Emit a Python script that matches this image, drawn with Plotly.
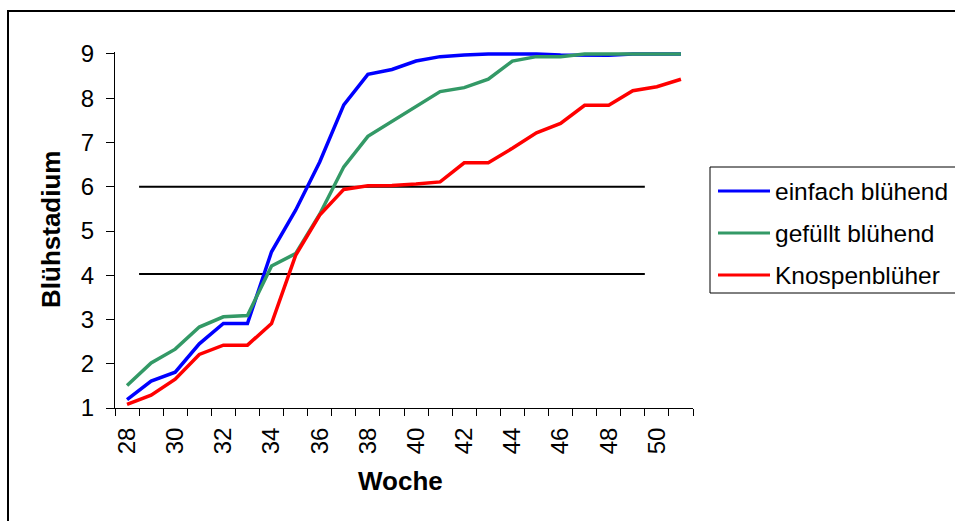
import plotly.graph_objects as go

# ---- data ----
weeks = list(range(28, 52))
einfach = [1.19, 1.61, 1.81, 2.45, 2.91, 2.91, 4.53, 5.47, 6.56, 7.85, 8.54, 8.65,
           8.84, 8.94, 8.98, 9.0, 9.0, 9.0, 8.98, 8.97, 8.97, 9.0, 9.0, 9.0]
gefuellt = [1.51, 2.02, 2.33, 2.83, 3.06, 3.09, 4.21, 4.49, 5.38, 6.45, 7.14, 7.47,
            7.82, 8.15, 8.24, 8.43, 8.84, 8.94, 8.94, 9.0, 9.0, 9.0, 9.0, 9.0]
knospen = [1.08, 1.29, 1.65, 2.21, 2.42, 2.42, 2.91, 4.45, 5.36, 5.94, 6.02, 6.03,
           6.06, 6.11, 6.54, 6.54, 6.87, 7.22, 7.43, 7.84, 7.84, 8.17, 8.26, 8.43]
series_names = ["einfach blühend", "gefüllt blühend", "Knospenblüher"]
series_colors = ["#0000FF", "#339966", "#FF0000"]
thresholds = [6.0, 4.03]
threshold_weeks = [28.5, 49.5]
y_ticks = list(range(1, 10))
x_tick_labels = list(range(28, 51, 2))

FONT = "Arial, 'Liberation Sans', sans-serif"

W, H = 955, 521
L, R, T, B = 115, 262, 52, 113
PW, PH = W - L - R, H - T - B


def px(p):
    return (p - L) / PW


def py(p):
    return (H - B - p) / PH


fig = go.Figure()

for th in thresholds:
    fig.add_trace(go.Scatter(x=threshold_weeks, y=[th, th], mode="lines",
                             line=dict(color="black", width=2), showlegend=False,
                             hoverinfo="skip"))

for name, vals, col in zip(series_names, [einfach, gefuellt, knospen], series_colors):
    fig.add_trace(go.Scatter(x=weeks, y=vals, mode="lines", name=name,
                             line=dict(color=col, width=3.5), showlegend=False))

shapes = []
annotations = []

# outer chart border (left/top visible)
shapes.append(dict(type="rect", xref="paper", yref="paper",
                   x0=px(8), x1=px(990), y0=py(560), y1=py(11),
                   line=dict(color="black", width=2), fillcolor="rgba(0,0,0,0)",
                   layer="above"))

# legend box
shapes.append(dict(type="rect", xref="paper", yref="paper",
                   x0=px(710), x1=px(990), y0=py(293), y1=py(167),
                   line=dict(color="black", width=1), fillcolor="white"))
leg_y = [191, 233, 275]
for name, col, yy in zip(series_names, series_colors, leg_y):
    shapes.append(dict(type="line", xref="paper", yref="paper",
                       x0=px(718), x1=px(770), y0=py(yy), y1=py(yy),
                       line=dict(color=col, width=3)))
    annotations.append(dict(text=name, xref="paper", yref="paper",
                            x=px(773), y=py(yy), xanchor="left", yanchor="middle",
                            showarrow=False, font=dict(family=FONT, size=24.5, color="black")))

# axis titles
annotations.append(dict(text="<b>Blühstadium</b>", xref="paper", yref="paper",
                        x=px(51), y=py(230), textangle=-90, showarrow=False,
                        xanchor="center", yanchor="middle",
                        font=dict(family=FONT, size=26, color="black")))
annotations.append(dict(text="<b>Woche</b>", xref="paper", yref="paper",
                        x=px(400), y=py(481), showarrow=False,
                        xanchor="center", yanchor="middle",
                        font=dict(family=FONT, size=26, color="black")))

fig.update_layout(
    width=W, height=H,
    margin=dict(l=L, r=R, t=T, b=B, pad=0),
    paper_bgcolor="white", plot_bgcolor="white",
    showlegend=False,
    shapes=shapes, annotations=annotations,
    font=dict(family=FONT, size=24, color="black"),
)

fig.update_xaxes(
    range=[27.5, 51.5], tickmode="array", tickvals=x_tick_labels,
    ticktext=[str(v) for v in x_tick_labels], tickangle=-90,
    ticks="", showgrid=False, zeroline=False,
    showline=True, linecolor="black", linewidth=1,
    ticklabelstandoff=9,
    tickfont=dict(family=FONT, size=24, color="black"),
    minor=dict(ticks="outside", ticklen=7, tickcolor="black", tickwidth=1,
               tick0=27.5, dtick=1, showgrid=False),
)
fig.update_yaxes(
    range=[1, 9.045], tickmode="array", tickvals=y_ticks,
    ticks="outside", ticklen=8, tickcolor="black", tickwidth=1,
    showgrid=False, zeroline=False,
    showline=True, linecolor="black", linewidth=1,
    ticklabelstandoff=7,
    tickfont=dict(family=FONT, size=24, color="black"),
)

fig.write_html("out.html", config={"displayModeBar": False},
               post_script="document.body.style.margin='0';document.body.style.overflow='hidden';")
